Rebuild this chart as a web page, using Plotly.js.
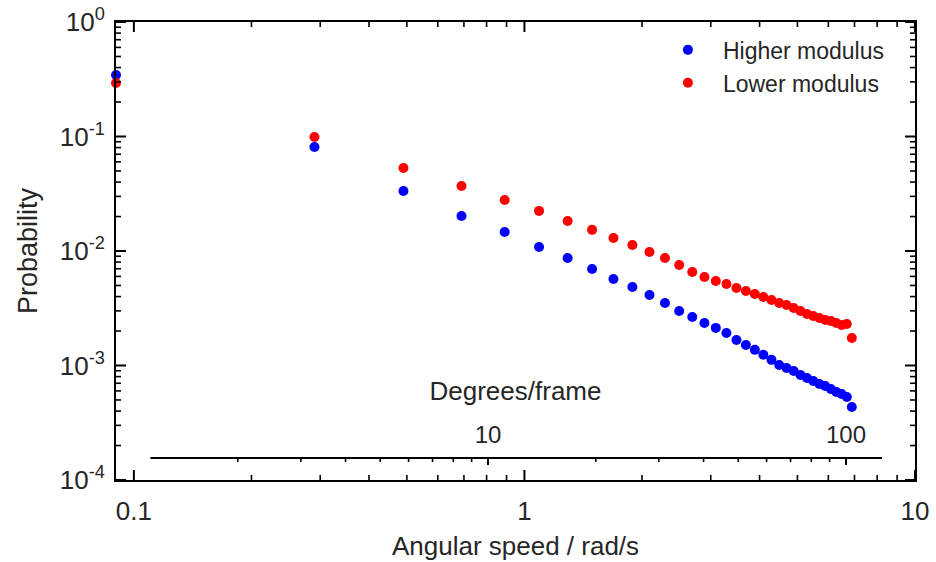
<!DOCTYPE html>
<html>
<head>
<meta charset="utf-8">
<script src="https://cdn.plot.ly/plotly-3.0.1.min.js"></script>
<style>html,body{margin:0;padding:0;background:#fff;}#chart{width:936px;height:562px;}</style>
</head>
<body>
<div id="chart"></div>
<script>
// Angular speed (rad/s), bin centres
const angularSpeed = [0.09,0.29,0.49,0.69,0.89,1.09,1.29,1.49,1.69,1.89,2.09,2.29,2.49,2.69,2.89,3.09,3.29,3.49,3.69,3.89,4.09,4.29,4.49,4.69,4.89,5.09,5.29,5.49,5.69,5.89,6.09,6.29,6.49,6.69,6.89];
const higherModulus = [0.344,0.0810,0.0334,0.0202,0.01465,0.01083,0.00869,0.00697,0.00569,0.00485,0.00413,0.00351,0.00299,0.00265,0.00235,0.00213,0.00192,0.00167,0.00151,0.00137,0.00124,0.00112,0.00101,0.000951,0.000895,0.000826,0.000778,0.000732,0.000689,0.000662,0.000623,0.000587,0.000564,0.000531,0.000434];
const lowerModulus = [0.293,0.099,0.0531,0.0370,0.0279,0.0224,0.0183,0.0153,0.0130,0.01128,0.0098,0.00869,0.00754,0.00656,0.00593,0.00547,0.00515,0.00475,0.00447,0.00421,0.00397,0.00373,0.00351,0.00338,0.00318,0.00299,0.00282,0.00271,0.0026,0.0025,0.00245,0.00235,0.00226,0.0023,0.00174];
const seriesNames = ["Higher modulus","Lower modulus"];
const xTickVals = [0.1,1,10];
const xTickText = ["0.1","1","10"];
const yTickVals = [1e-4,1e-3,1e-2,1e-1,1];
const yTickText = ["10<sup>-4</sup>","10<sup>-3</sup>","10<sup>-2</sup>","10<sup>-1</sup>","10<sup>0</sup>"];
const degTickVals = [10,100];
const degTickText = ["10","100"];
const degAxisExtent = [1.14, 126];   // Degrees/frame axis line ends

function minorTicks(lo, hi){ // 2..9 x 10^e for e in [lo, hi)
  const out=[];
  for(let e=lo;e<hi;e++){for(let m=2;m<=9;m++){out.push(m*Math.pow(10,e));}}
  return out;
}

const FONT = "Liberation Sans, Arial, sans-serif";
const TXT = "#262626";
const DEG_POS = 0.048;   // paper height of the Degrees/frame axis

// inside tick marks, placed through the axes' own scales
function xTickMarks(vals, xref, anchor, len, w){
  return vals.map(v => ({type:"line", layer:"above", xref:xref, x0:v, x1:v,
    yref:"paper", ysizemode:"pixel", yanchor:anchor, y0:0, y1:len, line:{color:"#000", width:w}}));
}
function yTickMarks(vals, anchor, len, w){
  return vals.map(v => ({type:"line", layer:"above", yref:"y", y0:v, y1:v,
    xref:"paper", xsizemode:"pixel", xanchor:anchor, x0:0, x1:len, line:{color:"#000", width:w}}));
}

const xMinor = minorTicks(-1,1);
const yMinor = minorTicks(-4,0);
const degMinor = minorTicks(0,2);

const shapes = [].concat(
  xTickMarks(xTickVals, "x", 0, 10, 2), xTickMarks(xTickVals, "x", 1, -10, 2),
  xTickMarks(xMinor, "x", 0, 5, 1.6),   xTickMarks(xMinor, "x", 1, -5, 1.6),
  yTickMarks(yTickVals, 0, 10, 2),      yTickMarks(yTickVals, 1, -10, 2),
  yTickMarks(yMinor, 0, 5, 1.6),        yTickMarks(yMinor, 1, -5, 1.6),
  xTickMarks(degTickVals, "x2", DEG_POS, -7, 2),
  xTickMarks(degMinor, "x2", DEG_POS, -4, 1.6),
  [{type:"line", xref:"x2", yref:"paper", x0:degAxisExtent[0], x1:degAxisExtent[1], y0:DEG_POS, y1:DEG_POS,
    line:{color:"#000", width:2}, layer:"above"}]
);

const traces = [
  {x: angularSpeed, y: higherModulus, name: seriesNames[0], type:"scatter", mode:"markers",
   marker:{color:"rgb(0,0,255)", size:10}, cliponaxis:false},
  {x: angularSpeed, y: lowerModulus, name: seriesNames[1], type:"scatter", mode:"markers",
   marker:{color:"rgb(255,0,0)", size:10}, cliponaxis:false},
  {x: [], y: [], xaxis:"x2", yaxis:"y", showlegend:false, type:"scatter", mode:"markers", hoverinfo:"skip"}
];

const base = {type:"log", autorange:false, showgrid:false, zeroline:false, ticks:""};

const layout = {
  width:936, height:562,
  margin:{l:116, r:21, t:22, b:82},
  paper_bgcolor:"#fff", plot_bgcolor:"#fff",
  font:{family:FONT, color:TXT},
  showlegend:true,
  legend:{x:0.672, y:0.986, xanchor:"left", yanchor:"top", bgcolor:"rgba(0,0,0,0)",
          font:{family:FONT, size:23, color:TXT}, itemwidth:60, tracegroupgap:0},
  xaxis: Object.assign({}, base, {
    range:[Math.log10(0.09), 1], showline:true, linecolor:"#000", linewidth:2, mirror:true,
    tickmode:"array", tickvals:xTickVals, ticktext:xTickText, ticklabelstandoff:7,
    tickfont:{family:FONT, size:26, color:TXT},
    title:{text:"Angular speed / rad/s", font:{family:FONT, size:26, color:TXT}, standoff:12}
  }),
  yaxis: Object.assign({}, base, {
    range:[-4, 0], showline:true, linecolor:"#000", linewidth:2, mirror:true,
    tickmode:"array", tickvals:yTickVals, ticktext:yTickText, ticklabelstandoff:4,
    tickfont:{family:FONT, size:26, color:TXT},
    title:{text:"Probability", font:{family:FONT, size:27, color:TXT}, standoff:14}
  }),
  xaxis2: Object.assign({}, base, {
    range:[-0.0391, 2.1927], overlaying:"x", anchor:"free", position:DEG_POS, side:"top",
    showline:false,
    tickmode:"array", tickvals:degTickVals, ticktext:degTickText, ticklabelstandoff:10,
    tickfont:{family:FONT, size:24, color:TXT},
    title:{text:"Degrees/frame", font:{family:FONT, size:26, color:TXT}, standoff:12}
  }),
  shapes: shapes
};

Plotly.newPlot("chart", traces, layout, {displayModeBar:false, staticPlot:true});
</script>
</body>
</html>
